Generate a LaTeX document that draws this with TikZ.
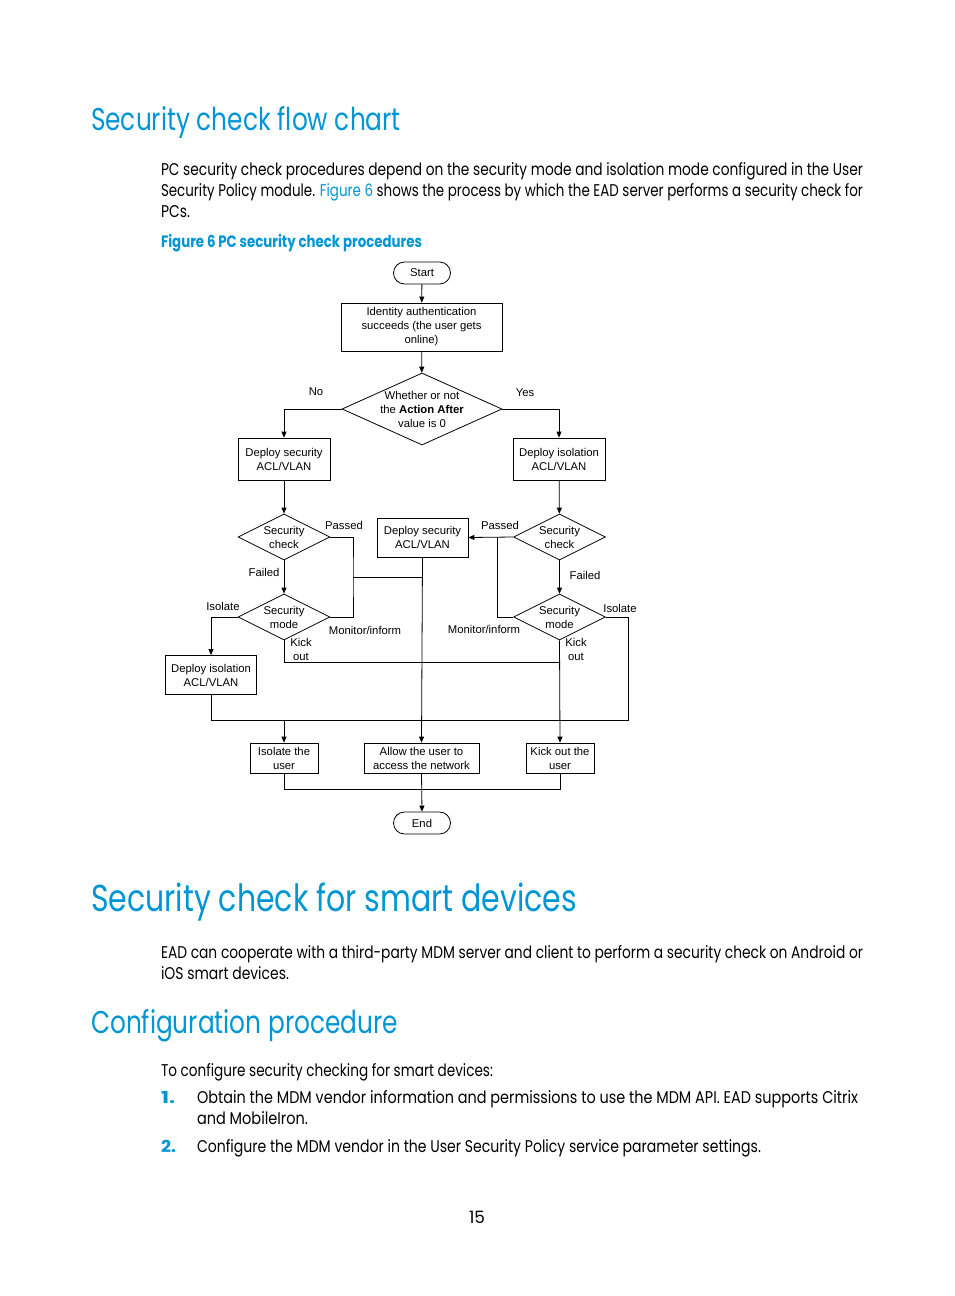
\documentclass[tikz,border=0pt]{standalone}
\usepackage{fontspec}
\usepackage{graphicx}
\setmainfont{Liberation Sans}
\newfontfamily\flfont{Liberation Sans}
\newfontfamily\bodyfont[FakeStretch=0.8]{Poppins}
\newfontfamily\headfont[FakeStretch=0.8]{Poppins}
\usetikzlibrary{arrows.meta,shapes.geometric}
\definecolor{hpblue}{HTML}{0096D6}
\newsavebox\fitbox
\newcommand\fitto[2]{\sbox\fitbox{#2}\pgfmathsetmacro\fitratio{#1/\the\wd\fitbox}\scalebox{\fitratio}[1]{\usebox\fitbox}}
\newcommand\bodyf{\bodyfont\fontsize{17}{21}\selectfont}
\newcommand\headf{\headfont\fontsize{31.5}{36}\selectfont}
\newcommand\headbigf{\headfont\fontsize{37.5}{42}\selectfont}
\newcommand\capf{\bodyfont\bfseries\fontsize{16.5}{20}\selectfont}
\newcommand\flf{\flfont\fontsize{11.3}{14}\selectfont}
\begin{document}
\begin{tikzpicture}[x=1pt,y=-1pt,
  txt/.style={anchor=base west,inner sep=0,outer sep=0},
  box/.style={draw,line width=0.8pt,inner sep=0,align=center,font=\flf},
  term/.style={draw,line width=0.8pt,rounded corners=11pt,minimum width=57,minimum height=22,inner sep=0,font=\flf},
  dia/.style={diamond,draw,line width=0.8pt,inner sep=0,minimum width=92,minimum height=46},
  dtext/.style={font=\flf,align=center,inner sep=0},
  lab/.style={font=\flf,align=center,inner sep=0},
  ln/.style={line width=0.8pt},
  arr/.style={line width=0.8pt,-{Triangle[length=6pt,width=5pt]}}]
\fill[white] (0,0) rectangle (954,1296);
\useasboundingbox (0,0) rectangle (954,1296);

% ---------- page text ----------
\node[txt,font=\headf,text=hpblue] (h1) at (91,130) {\fitto{310}{Security check flow chart}};
\node[txt,font=\bodyf] (p1) at (161,175) {\fitto{702}{PC security check procedures depend on the security mode and isolation mode configured in the User}};
\node[txt,font=\bodyf] (p2) at (161,196) {\fitto{702}{Security Policy module. \textcolor{hpblue}{Figure 6} shows the process by which the EAD server performs a security check for}};
\node[txt,font=\bodyf] (p3) at (161,217) {\fitto{29}{PCs.}};
\node[txt,font=\capf,text=hpblue] (cap) at (161,247) {\fitto{261}{Figure 6 PC security check procedures}};

\node[txt,font=\headbigf,text=hpblue] (h2) at (91,911) {\fitto{486}{Security check for smart devices}};
\node[txt,font=\bodyf] (s1) at (161,958) {\fitto{702}{EAD can cooperate with a third-party MDM server and client to perform a security check on Android or}};
\node[txt,font=\bodyf] (s2) at (161,979) {\fitto{128}{iOS smart devices.}};

\node[txt,font=\headf,text=hpblue] (h3) at (91,1033) {\fitto{307}{Configuration procedure}};
\node[txt,font=\bodyf] (c0) at (161,1076) {\fitto{332}{To configure security checking for smart devices:}};
\node[txt,font=\capf,text=hpblue] (n1) at (161,1103) {\fitto{14}{1.}};
\node[txt,font=\bodyf] (c1) at (197,1103) {\fitto{661}{Obtain the MDM vendor information and permissions to use the MDM API. EAD supports Citrix}};
\node[txt,font=\bodyf] (c2) at (197,1124) {\fitto{111}{and MobileIron.}};
\node[txt,font=\capf,text=hpblue] (n2) at (161,1152) {\fitto{15}{2.}};
\node[txt,font=\bodyf] (c3) at (197,1152) {\fitto{564}{Configure the MDM vendor in the User Security Policy service parameter settings.}};
\node[txt,font=\bodyf] (pg) at (469,1223) {\fitto{16}{15}};

% ---------- flowchart nodes ----------
\node[term] (start) at (422,273) {Start};
\node[box,minimum width=161,minimum height=48] (ident) at (421.5,327) {Identity authentication\\succeeds (the user gets\\online)};
\node[dia,minimum width=160,minimum height=72,label={[dtext]center:{Whether or not\\the \textbf{Action After}\\value is 0}}] (d1) at (422,409) {};
\node[box,minimum width=92,minimum height=42] (dsec) at (284,459) {Deploy security\\ACL/VLAN};
\node[box,minimum width=92,minimum height=42] (diso) at (559,459) {Deploy isolation\\ACL/VLAN};
\node[dia,label={[dtext]center:{Security\\check}}] (chkL) at (284,537) {};
\node[box,minimum width=91,minimum height=39] (dmid) at (422.5,537.5) {Deploy security\\ACL/VLAN};
\node[dia,label={[dtext]center:{Security\\check}}] (chkR) at (559.5,537) {};
\node[dia,label={[dtext]center:{Security\\mode}}] (modeL) at (284,617) {};
\node[dia,label={[dtext]center:{Security\\mode}}] (modeR) at (559.5,617) {};
\node[box,minimum width=91,minimum height=39] (disoL) at (211,675) {Deploy isolation\\ACL/VLAN};
\node[box,minimum width=68,minimum height=30] (isol) at (284,758) {Isolate the\\user};
\node[box,minimum width=115,minimum height=30] (allow) at (421.5,758) {Allow the user to\\access the network};
\node[box,minimum width=68,minimum height=30] (kick) at (560,758) {Kick out the\\user};
\node[term] (end) at (422,823) {End};

% labels
\node[lab] (lno) at (316,392) {No};
\node[lab] (lyes) at (525,393) {Yes};
\node[lab] (lpl) at (344,525) {Passed};
\node[lab] (lpr) at (500,525) {Passed};
\node[lab] (lfl) at (264,572) {Failed};
\node[lab] (lfr) at (585,575) {Failed};
\node[lab] (lil) at (223,606) {Isolate};
\node[lab] (lir) at (620,608) {Isolate};
\node[lab] (lml) at (365,630) {Monitor/inform};
\node[lab] (lmr) at (484,629) {Monitor/inform};
\node[lab] (lkl) at (301,649) {Kick\\out};
\node[lab] (lkr) at (576,649) {Kick\\out};

% junction coordinates
\coordinate (jL) at (353,577);
\coordinate (jR) at (497,537);
\coordinate (kj) at (559.5,662);
\coordinate (ij) at (284,720);
\coordinate (ir) at (628,720);
\coordinate (bj) at (422,789);

% ---------- connectors ----------
\draw[arr] (start) -- (ident);
\draw[arr] (ident) -- (d1);
\draw[arr] (d1.west) -| (dsec.north);
\draw[arr] (d1.east) -| (diso.north);
\draw[arr] (dsec) -- (chkL);
\draw[arr] (diso) -- (chkR);
\draw[ln] (chkL.east) -| (jL) |- (modeL.east);
\draw[ln] (jL) -- (jL -| dmid.south);
\draw[arr] (dmid.south) -- (allow.north);
\draw[arr] (chkR.west) -- (dmid.east);
\draw[ln] (jR) |- (modeR.west);
\draw[arr] (chkL) -- (modeL);
\draw[arr] (chkR) -- (modeR);
\draw[arr] (modeL.west) -| (disoL.north);
\draw[ln] (modeL.south) |- (kj);
\draw[arr] (modeR.south) -- (kick.north);
\draw[ln] (disoL.south) |- (ir) |- (modeR.east);
\draw[arr] (ij) -- (isol.north);
\draw[ln] (isol.south) |- (bj) -| (kick.south);
\draw[arr] (allow.south) -- (end.north);
\end{tikzpicture}
\end{document}
